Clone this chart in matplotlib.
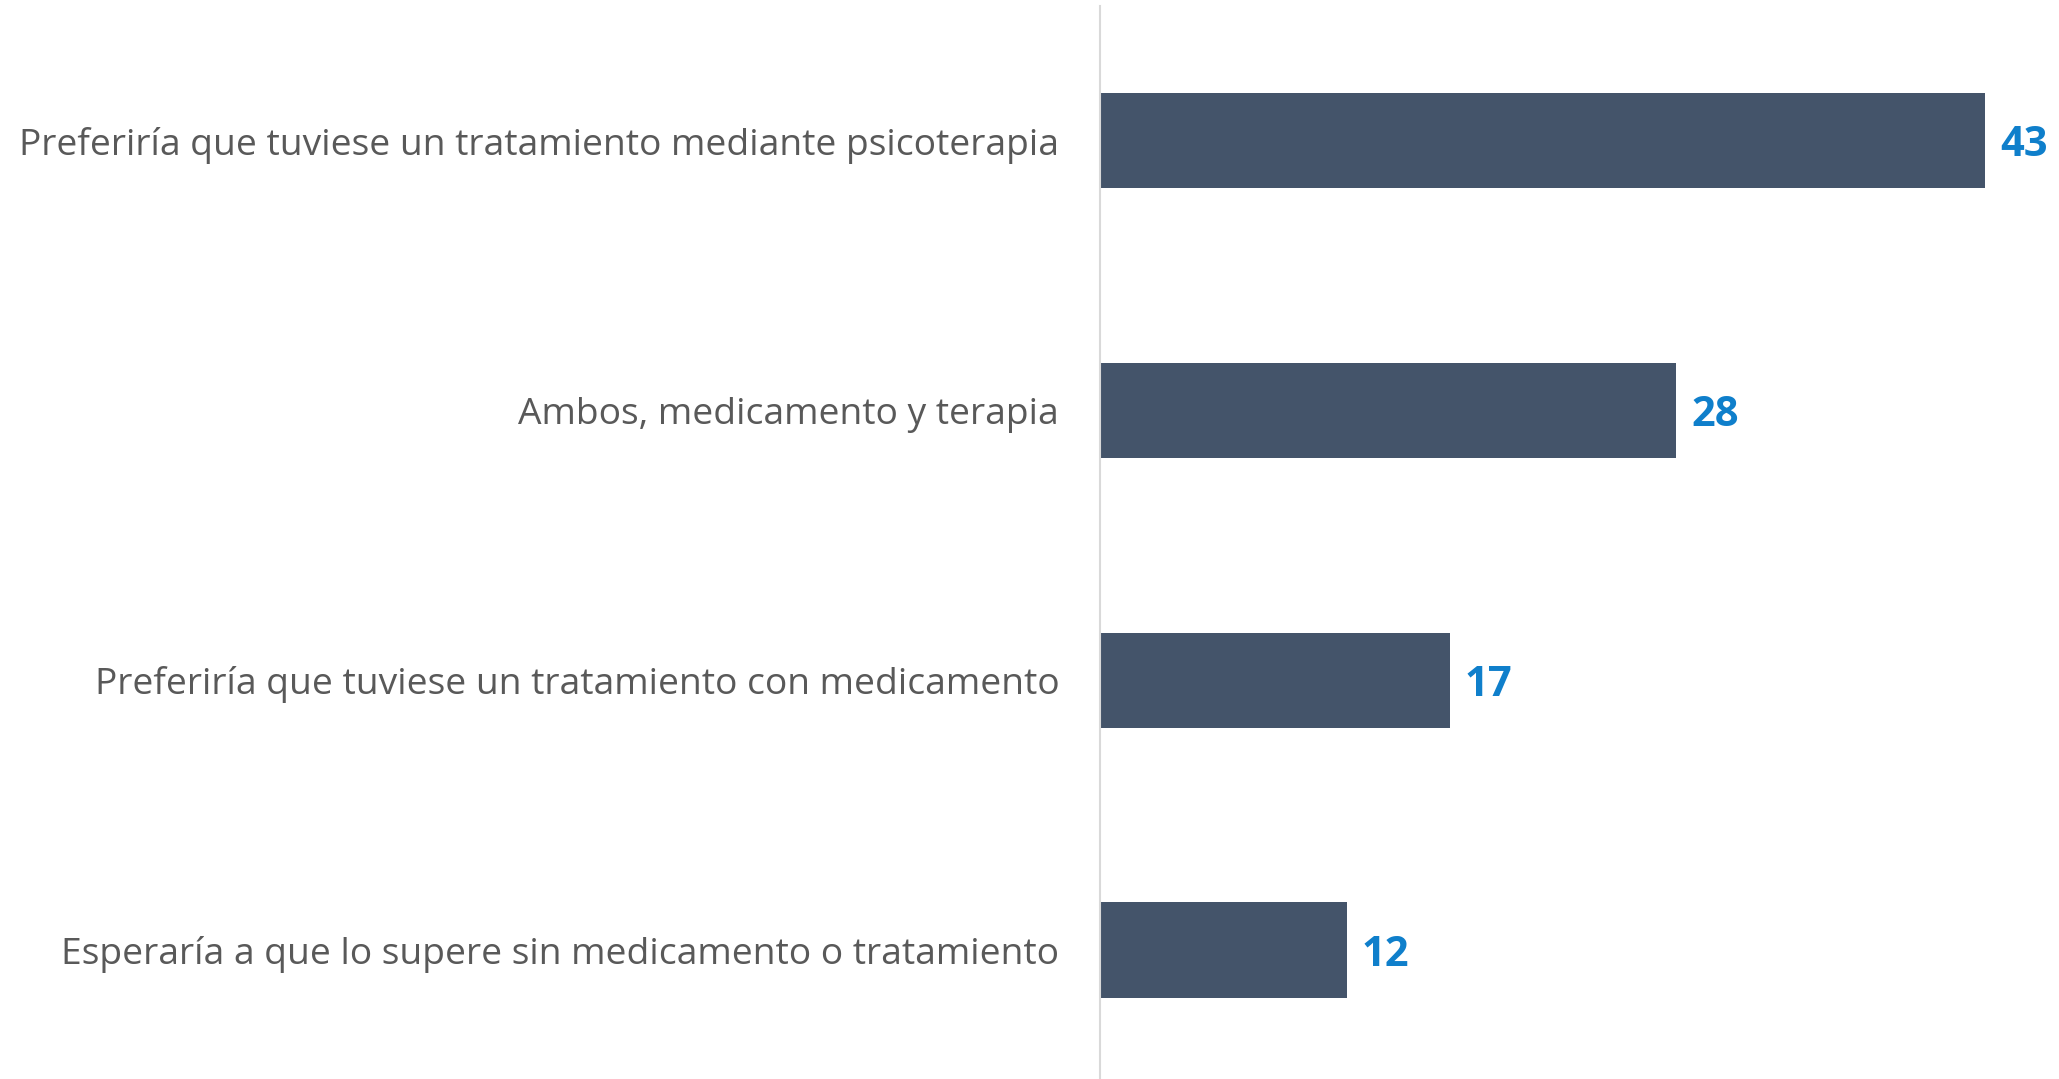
import matplotlib
matplotlib.use("Agg")
import matplotlib.pyplot as plt

categories = [
    "Preferiría que tuviese un tratamiento mediante psicoterapia",
    "Ambos, medicamento y terapia",
    "Preferiría que tuviese un tratamiento con medicamento",
    "Esperaría a que lo supere sin medicamento o tratamiento",
]
values = [43, 28, 17, 12]

plt.rcParams['font.family'] = ['Open Sans', 'DejaVu Sans']

fig = plt.figure(figsize=(20.59, 10.79), dpi=100)
ax = fig.add_axes([0.534, -0.0055, 0.466, 1.0])

pos = list(range(len(categories)))
ax.barh(pos, values, height=0.353, color='#44546A')

for p, v in zip(pos, values):
    ax.text(v + 0.75, p, str(v), va='center_baseline', ha='left',
            fontsize=30, fontweight='bold', color='#0F7FCB')

ax.set_yticks(pos)
ax.set_yticklabels(categories, fontsize=26.8, color='#595959')
ax.tick_params(axis='y', length=0, pad=29)
ax.set_xticks([])
ax.set_xlim(0, 46.6)
ax.set_ylim(3.5, -0.5)

for s in ['top', 'right', 'bottom']:
    ax.spines[s].set_visible(False)
ax.spines['left'].set_color('#D9D9D9')
ax.spines['left'].set_linewidth(1.5)

fig.savefig("out.png", dpi=100)
